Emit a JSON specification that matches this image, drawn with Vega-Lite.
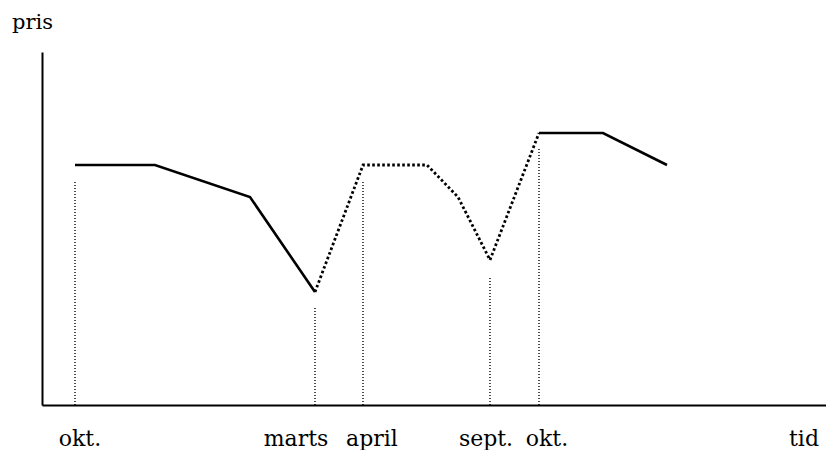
{
  "$schema": "https://vega.github.io/schema/vega-lite/v6.json",
  "width": 784,
  "height": 353,
  "autosize": "none",
  "padding": {"left": 42, "top": 52, "right": 0, "bottom": 45},
  "background": "white",
  "config": {"view": {"stroke": null}},
  "datasets": {
    "kurve": [
      {"tid": 33, "pris": 240, "del": "1"},
      {"tid": 113, "pris": 240, "del": "1"},
      {"tid": 208, "pris": 208, "del": "1"},
      {"tid": 273, "pris": 113, "del": "1"},
      {"tid": 273, "pris": 113, "del": "2"},
      {"tid": 321, "pris": 240, "del": "2"},
      {"tid": 385, "pris": 240, "del": "2"},
      {"tid": 416, "pris": 208, "del": "2"},
      {"tid": 448, "pris": 145, "del": "2"},
      {"tid": 497, "pris": 272, "del": "2"},
      {"tid": 497, "pris": 272, "del": "3"},
      {"tid": 561, "pris": 272, "del": "3"},
      {"tid": 625, "pris": 240, "del": "3"}
    ],
    "lodret": [
      {"tid": 33, "bund": 0, "top": 225},
      {"tid": 273, "bund": 0, "top": 97},
      {"tid": 321, "bund": 0, "top": 225},
      {"tid": 448, "bund": 0, "top": 128},
      {"tid": 497, "bund": 0, "top": 257}
    ],
    "tekst": [
      {"tid": 38, "pris": -41, "label": "okt.", "str": "b"},
      {"tid": 254, "pris": -41, "label": "marts", "str": "b"},
      {"tid": 330, "pris": -41, "label": "april", "str": "b"},
      {"tid": 444, "pris": -41, "label": "sept.", "str": "b"},
      {"tid": 505, "pris": -41, "label": "okt.", "str": "b"},
      {"tid": 762, "pris": -41, "label": "tid", "str": "b"},
      {"tid": -9.5, "pris": 376, "label": "pris", "str": "a"}
    ]
  },
  "layer": [
    {
      "data": {"name": "lodret"},
      "mark": {"type": "rule", "color": "black", "strokeWidth": 1.4, "strokeDash": [1, 2]},
      "encoding": {
        "x": {"field": "tid", "type": "quantitative", "scale": {"domain": [0, 784], "nice": false, "zero": false},
              "axis": {"title": null, "labels": false, "ticks": false, "grid": false, "domainColor": "black", "domainWidth": 2, "orient": "bottom"}},
        "y": {"field": "bund", "type": "quantitative", "scale": {"domain": [0, 353], "nice": false, "zero": false},
              "axis": {"title": null, "labels": false, "ticks": false, "grid": false, "domainColor": "black", "domainWidth": 2, "orient": "left"}},
        "y2": {"field": "top"}
      }
    },
    {
      "data": {"name": "kurve"},
      "transform": [{"filter": "datum.del !== '2'"}],
      "mark": {"type": "line", "color": "black", "strokeWidth": 2.6, "strokeJoin": "miter"},
      "encoding": {
        "x": {"field": "tid", "type": "quantitative"},
        "y": {"field": "pris", "type": "quantitative"},
        "detail": {"field": "del", "type": "nominal"},
        "order": {"field": "tid", "type": "quantitative"}
      }
    },
    {
      "data": {"name": "kurve"},
      "transform": [{"filter": "datum.del === '2'"}],
      "mark": {"type": "line", "color": "black", "strokeWidth": 2.8, "strokeDash": [2.6, 2.4]},
      "encoding": {
        "x": {"field": "tid", "type": "quantitative"},
        "y": {"field": "pris", "type": "quantitative"},
        "order": {"field": "tid", "type": "quantitative"}
      }
    },
    {
      "data": {"name": "tekst"},
      "transform": [{"filter": "datum.str === 'b'"}],
      "mark": {"type": "text", "font": "DejaVu Serif", "fontSize": 22, "color": "black", "align": "center", "baseline": "alphabetic"},
      "encoding": {
        "x": {"field": "tid", "type": "quantitative"},
        "y": {"field": "pris", "type": "quantitative"},
        "text": {"field": "label", "type": "nominal"}
      }
    },
    {
      "data": {"name": "tekst"},
      "transform": [{"filter": "datum.str === 'a'"}],
      "mark": {"type": "text", "font": "DejaVu Serif", "fontSize": 21, "color": "black", "align": "center", "baseline": "alphabetic"},
      "encoding": {
        "x": {"field": "tid", "type": "quantitative"},
        "y": {"field": "pris", "type": "quantitative"},
        "text": {"field": "label", "type": "nominal"}
      }
    }
  ]
}
